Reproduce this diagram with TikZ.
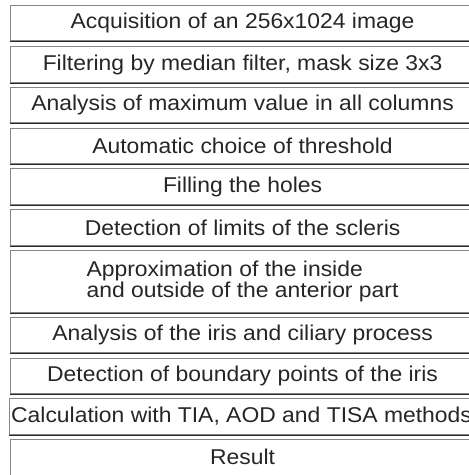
\documentclass[tikz,border=0pt]{standalone}
\usepackage{fontspec}
\setmainfont[FakeStretch=1.07]{Liberation Sans}
\definecolor{edgegray}{HTML}{858585}
\definecolor{edgedark}{HTML}{2A2A2A}
\tikzset{
  stepbox/.style={draw=edgegray, line width=1.1pt, anchor=north west,
    minimum width=465pt, inner sep=0pt, align=center,
    font=\fontsize{21.4}{20.5}\selectfont, text=black!85,
    append after command={
      \pgfextra{\draw[edgedark, line width=1.1pt]
        (\tikzlastnode.south west) -- (\tikzlastnode.south east);}}},
}
\begin{document}
\begin{tikzpicture}[x=1pt,y=1pt]
\useasboundingbox (0,0) rectangle (469,-475);
\clip (0,0) rectangle (469,-475);
\node[stepbox, minimum height=35pt] (b1) at (9.5,-5) {Acquisition of an 256x1024 image};
\node[stepbox, minimum height=36pt] (b2) at (9.5,-46) {Filtering by median filter, mask size 3x3};
\node[stepbox, minimum height=35pt] (b3) at (9.5,-87) {Analysis of maximum value in all columns};
\node[stepbox, minimum height=35pt] (b4) at (9.5,-128) {Automatic choice of threshold};
\node[stepbox, minimum height=36pt] (b5) at (9.5,-168) {Filling the holes};
\node[stepbox, minimum height=36pt] (b6) at (9.5,-209) {Detection of limits of the scleris};
\node[stepbox, minimum height=62pt, align=left] (b7) at (9.5,-250) {Approximation of the inside\\and outside of the anterior part};
\node[stepbox, minimum height=35pt] (b8) at (9.5,-317) {Analysis of the iris and ciliary process};
\node[stepbox, minimum height=35pt] (b9) at (9.5,-358) {Detection of boundary points of the iris};
\node[stepbox, minimum height=36pt, xshift=-1pt] (b10) at (9.5,-398) {Calculation with TIA, AOD and TISA methods};
\node[stepbox, minimum height=36pt, text depth=0pt] (b11) at (9.5,-439) {\raisebox{2pt}{Result}};
\end{tikzpicture}
\end{document}
